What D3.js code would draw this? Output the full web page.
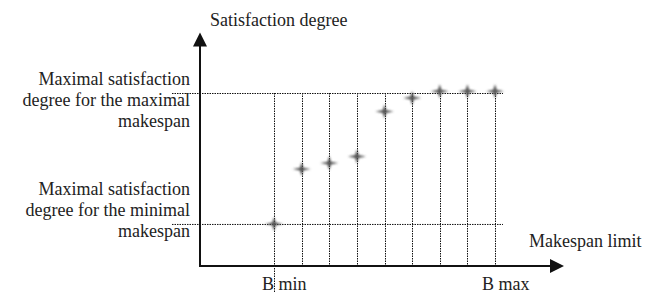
<!DOCTYPE html>
<html>
<head>
<meta charset="utf-8">
<script src="https://cdn.jsdelivr.net/npm/d3@7"></script>
<style>
  body { margin: 0; background: #fff; }
</style>
</head>
<body>
<div id="chart"></div>
<script>
// Makespan limits from B min to B max (9 steps)
const limits = ["Bmin", "L2", "L3", "L4", "L5", "L6", "L7", "L8", "Bmax"];
// Satisfaction degree (1 = maximal level for maximal makespan)
const satisfaction = [0.243, 0.56, 0.595, 0.633, 0.893, 0.971, 1.01, 1.01, 1.01];
// Reference levels shown as horizontal dotted lines
const levels = [
  { value: 1, label: ["Maximal satisfaction", "degree for the maximal", "makespan"] },
  { value: 0.243, label: ["Maximal satisfaction", "degree for the minimal", "makespan"] }
];
const xLabels = [{ key: "Bmin", text: "B min" }, { key: "Bmax", text: "B max" }];

const W = 661, H = 293;
const left = 200, bottom = 266;

const svg = d3.select("#chart").append("svg")
  .attr("width", W).attr("height", H)
  .style("font-family", "'Liberation Serif', 'Times New Roman', serif");

const x = d3.scalePoint().domain(limits).range([274, 495]);
const y = d3.scaleLinear().domain([0, 1]).range([bottom, 93]);

const defs = svg.append("defs");
defs.append("filter").attr("id", "blur")
  .attr("x", "-50%").attr("y", "-50%").attr("width", "200%").attr("height", "200%")
  .append("feGaussianBlur").attr("stdDeviation", 0.9);

// dotted grid: horizontal level lines
svg.selectAll(".hline")
  .data(levels)
  .join("line")
  .attr("x1", 172).attr("x2", 503)
  .attr("y1", d => y(d.value) + 0.5).attr("y2", d => y(d.value) + 0.5)
  .attr("stroke", "#111").attr("stroke-width", 1)
  .attr("stroke-dasharray", "1.5,1");

// dotted vertical lines at each limit
svg.selectAll(".vline")
  .data(limits)
  .join("line")
  .attr("x1", d => Math.round(x(d)) + 0.5).attr("x2", d => Math.round(x(d)) + 0.5)
  .attr("y1", y(1))
  .attr("y2", (d, i) => i === 0 ? H : bottom)
  .attr("stroke", "#111").attr("stroke-width", 1)
  .attr("stroke-dasharray", "1.5,1");

// axes with arrow heads
const yTop = y(1.35);
svg.append("line")
  .attr("x1", left).attr("x2", left)
  .attr("y1", bottom).attr("y2", yTop + 10)
  .attr("stroke", "#111").attr("stroke-width", 2);
svg.append("path")
  .attr("d", `M${left},${yTop} L${left - 7},${yTop + 14} L${left + 7},${yTop + 14} Z`)
  .attr("fill", "#111");

const xEnd = 564;
svg.append("line")
  .attr("x1", left - 1).attr("x2", xEnd - 10)
  .attr("y1", bottom).attr("y2", bottom)
  .attr("stroke", "#111").attr("stroke-width", 2);
svg.append("path")
  .attr("d", `M${xEnd},${bottom} L${xEnd - 14},${bottom - 7} L${xEnd - 14},${bottom + 7} Z`)
  .attr("fill", "#111");

// star-like cross markers
const star = "M-9,0 L-1.8,-1.4 L0,-7 L1.8,-1.4 L9,0 L1.8,1.4 L0,7 L-1.8,1.4 Z";
svg.selectAll(".pt")
  .data(limits.map((d, i) => ({ limit: d, value: satisfaction[i] })))
  .join("path")
  .attr("d", star)
  .attr("transform", d => `translate(${x(d.limit)},${y(d.value)})`)
  .attr("fill", "#555")
  .attr("filter", "url(#blur)");

function label(sel) {
  return sel.style("font-size", "18px").attr("fill", "#222");
}

// axis titles
svg.append("text")
  .attr("x", 210).attr("y", 26)
  .call(label)
  .text("Satisfaction degree");
svg.append("text")
  .attr("x", 529).attr("y", 247)
  .call(label)
  .text("Makespan limit");

// level labels on the left
const baselines = [85, 195];
levels.forEach((lv, i) => {
  svg.append("text")
    .attr("text-anchor", "end")
    .call(label)
    .selectAll("tspan")
    .data(lv.label)
    .join("tspan")
    .attr("x", 190)
    .attr("y", (d, j) => baselines[i] + j * 21)
    .text(d => d);
});

// B min / B max labels under x axis
svg.selectAll(".xl")
  .data(xLabels)
  .join("text")
  .attr("x", d => x(d.key) + (d.key === "Bmin" ? -12 : -13))
  .attr("y", 290)
  .call(label)
  .text(d => d.text);
</script>
</body>
</html>
